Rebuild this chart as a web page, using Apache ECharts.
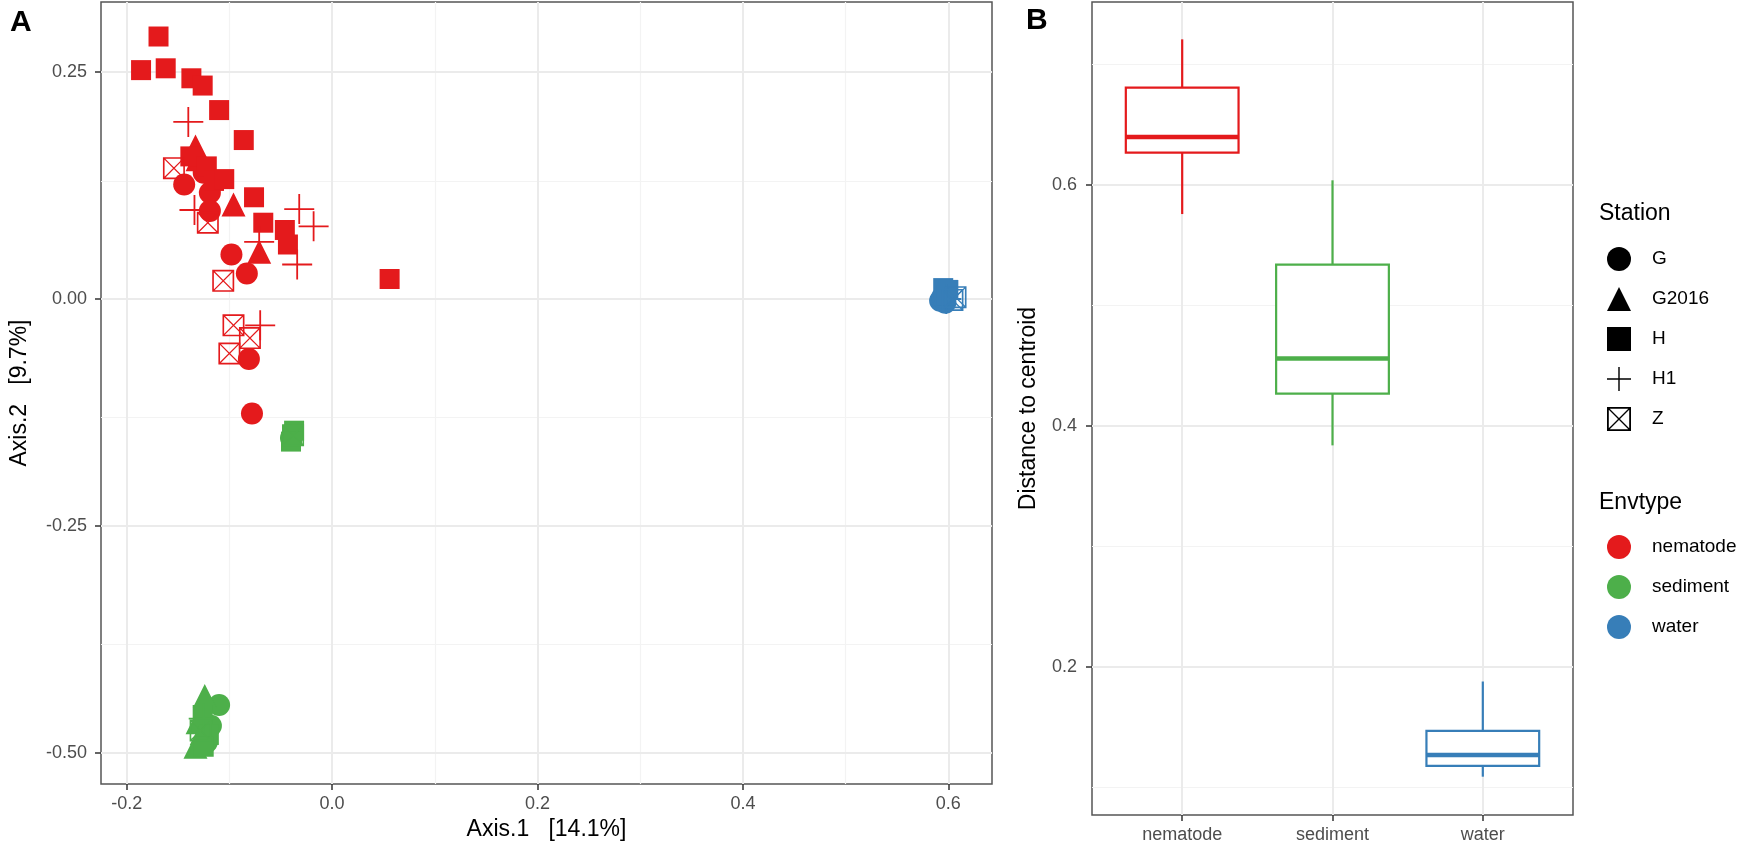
<!DOCTYPE html>
<html>
<head>
<meta charset="utf-8">
<title>PCoA and beta dispersion</title>
<script src="https://cdn.jsdelivr.net/npm/echarts@6/dist/echarts.min.js"></script>
<style>
    html, body { margin: 0; padding: 0; background: #fff; }
    #chart { width: 1750px; height: 847px; }
</style>
</head>
<body>
<div id="chart"></div>
<script>
// 环境类型与颜色
const envTypes = ['nematode', 'sediment', 'water']
const envColors = ['#E41A1C', '#4DAF4A', '#377EB8']

// PCoA 点: [Axis.1, Axis.2, envtype index]
const pointsG = [
    [-0.144, 0.126, 0], [-0.125, 0.139, 0], [-0.119, 0.117, 0], [-0.119, 0.097, 0],
    [-0.098, 0.049, 0], [-0.083, 0.028, 0], [-0.081, -0.066, 0], [-0.078, -0.126, 0],
    [-0.040, -0.153, 1], [-0.110, -0.447, 1], [-0.118, -0.470, 1], [-0.122, -0.488, 1],
    [0.592, -0.002, 2], [0.597, -0.004, 2], [0.594, 0.002, 2]
]
const pointsG2016 = [
    [-0.133, 0.168, 0], [-0.131, 0.154, 0], [-0.096, 0.104, 0], [-0.071, 0.052, 0],
    [-0.124, -0.437, 1], [-0.131, -0.466, 1], [-0.127, -0.478, 1], [-0.133, -0.493, 1],
    [0.596, 0.006, 2]
]
const pointsH = [
    [-0.169, 0.289, 0], [-0.186, 0.252, 0], [-0.162, 0.254, 0], [-0.137, 0.243, 0],
    [-0.126, 0.235, 0], [-0.110, 0.208, 0], [-0.086, 0.175, 0], [-0.138, 0.157, 0],
    [-0.122, 0.146, 0], [-0.115, 0.130, 0], [-0.105, 0.132, 0], [-0.076, 0.112, 0],
    [-0.067, 0.084, 0], [-0.046, 0.076, 0], [-0.043, 0.060, 0], [0.056, 0.022, 0],
    [-0.037, -0.145, 1], [-0.039, -0.150, 1], [-0.040, -0.157, 1],
    [-0.126, -0.458, 1], [-0.120, -0.480, 1], [-0.125, -0.493, 1],
    [0.595, 0.012, 2], [0.600, 0.010, 2], [0.598, 0.004, 2]
]
const pointsH1 = [
    [-0.140, 0.195, 0], [-0.134, 0.098, 0], [-0.071, 0.063, 0], [-0.032, 0.099, 0],
    [-0.018, 0.080, 0], [-0.034, 0.038, 0], [-0.070, -0.029, 0],
    [-0.125, -0.462, 1],
    [0.598, 0.000, 2]
]
const pointsZ = [
    [-0.154, 0.144, 0], [-0.121, 0.084, 0], [-0.106, 0.020, 0], [-0.096, -0.029, 0],
    [-0.080, -0.043, 0], [-0.100, -0.060, 0],
    [-0.038, -0.150, 1], [-0.128, -0.475, 1],
    [0.607, 0.002, 2], [0.604, -0.001, 2]
]

// 到质心距离箱线图: [category, min, Q1, median, Q3, max]
const boxNematode = [1, 0.576, 0.627, 0.640, 0.681, 0.721]
const boxSediment = [2, 0.384, 0.427, 0.456, 0.534, 0.604]
const boxWater = [3, 0.109, 0.118, 0.127, 0.147, 0.188]

// 刻度
const ticksAx = [-0.2, 0, 0.2, 0.4, 0.6]
const minorAx = [-0.1, 0.1, 0.3, 0.5]
const ticksAy = [-0.5, -0.25, 0, 0.25]
const minorAy = [-0.375, -0.125, 0.125]
const ticksBx = [1, 2, 3]
const ticksBy = [0.2, 0.4, 0.6]
const minorBy = [0.1, 0.3, 0.5, 0.7]

// 符号
const plusPath = 'path://M0,9.4H20V10.6H0Z M9.4,0H10.6V20H9.4Z'
const boxXPath = 'path://M0,0H20V20H0Z M1.5,1.5V18.5H18.5V1.5Z M0.8,0L20,19.2L19.2,20L0,0.8Z M19.2,0L20,0.8L0.8,20L0,19.2Z'
const stationSeries = [
    {name: 'G', data: pointsG, symbol: 'circle', size: 22},
    {name: 'G2016', data: pointsG2016, symbol: 'triangle', size: 24},
    {name: 'H', data: pointsH, symbol: 'rect', size: 20},
    {name: 'H1', data: pointsH1, symbol: plusPath, size: 30},
    {name: 'Z', data: pointsZ, symbol: boxXPath, size: 22}
]

const tickColor = '#333333'
const labelColor = '#4D4D4D'

function gridLines(xMajor, xMinor, yMajor, yMinor) {
    let data = []
    let major = {color: '#EBEBEB', width: 2, type: 'solid'}
    let minor = {color: '#F3F3F3', width: 1.2, type: 'solid'}
    xMinor.forEach(v => data.push({xAxis: v, lineStyle: minor}))
    yMinor.forEach(v => data.push({yAxis: v, lineStyle: minor}))
    xMajor.forEach(v => data.push({xAxis: v, lineStyle: major}))
    yMajor.forEach(v => data.push({yAxis: v, lineStyle: major}))
    return {
        silent: true,
        z: 1,
        symbol: ['none', 'none'],
        label: {show: false},
        emphasis: {disabled: true},
        animation: false,
        data: data
    }
}

function valueAxis(gridIndex, min, max, ticks, fmt, name, nameGap, margin) {
    return {
        type: 'value',
        gridIndex: gridIndex,
        min: min,
        max: max,
        axisLine: {show: false, onZero: false},
        axisTick: {show: true, length: 6, customValues: ticks, lineStyle: {color: tickColor, width: 1.5}},
        axisLabel: {customValues: ticks, formatter: fmt, color: labelColor, fontSize: 18, margin: margin},
        splitLine: {show: false},
        name: name,
        nameLocation: 'middle',
        nameGap: nameGap,
        nameTextStyle: {color: '#000', fontSize: 23}
    }
}

// 箱线图绘制
function renderBox(params, api) {
    let x = api.value(0)
    let lo = api.coord([x, api.value(1)])
    let q1 = api.coord([x, api.value(2)])
    let med = api.coord([x, api.value(3)])
    let q3 = api.coord([x, api.value(4)])
    let hi = api.coord([x, api.value(5)])
    let half = api.size([0.75, 0])[0] / 2
    let color = api.visual('color')
    let line = {stroke: color, lineWidth: 2.2, fill: null}
    return {
        type: 'group',
        children: [
            {type: 'line', shape: {x1: hi[0], y1: hi[1], x2: q3[0], y2: q3[1]}, style: line},
            {type: 'line', shape: {x1: q1[0], y1: q1[1], x2: lo[0], y2: lo[1]}, style: line},
            {type: 'rect', shape: {x: q3[0] - half, y: q3[1], width: half * 2, height: q1[1] - q3[1]},
                style: {stroke: color, lineWidth: 2.2, fill: '#fff'}},
            {type: 'line', shape: {x1: med[0] - half, y1: med[1], x2: med[0] + half, y2: med[1]},
                style: {stroke: color, lineWidth: 4.5}}
        ]
    }
}

let series = []
// 网格线
series.push({type: 'scatter', xAxisIndex: 0, yAxisIndex: 0, data: [], z: 1,
    markLine: gridLines(ticksAx, minorAx, ticksAy, minorAy)})
series.push({type: 'scatter', xAxisIndex: 1, yAxisIndex: 1, data: [], z: 1,
    markLine: gridLines(ticksBx, [], ticksBy, minorBy)})
// PCoA 散点
stationSeries.forEach(s => {
    series.push({
        type: 'scatter',
        name: s.name,
        xAxisIndex: 0,
        yAxisIndex: 0,
        data: s.data,
        symbol: s.symbol,
        symbolSize: s.size,
        z: 10,
        silent: true,
        itemStyle: {color: p => envColors[p.data[2]], opacity: 1}
    })
})
// 箱线图
;[boxNematode, boxSediment, boxWater].forEach((b, i) => {
    series.push({
        type: 'custom',
        name: envTypes[i],
        xAxisIndex: 1,
        yAxisIndex: 1,
        data: [b],
        encode: {x: 0, y: [1, 2, 3, 4, 5]},
        renderItem: renderBox,
        itemStyle: {color: envColors[i]},
        z: 10,
        silent: true
    })
})

let myChart = echarts.init(document.getElementById('chart'), null, {renderer: 'canvas'})
myChart.setOption({
    animation: false,
    backgroundColor: '#fff',
    textStyle: {fontFamily: 'Liberation Sans, Arial, sans-serif'},
    title: [
        {text: 'A', left: 10, top: 8, padding: 0, textStyle: {fontSize: 30, fontWeight: 'bold', color: '#000'}},
        {text: 'B', left: 1026, top: 6, padding: 0, textStyle: {fontSize: 30, fontWeight: 'bold', color: '#000'}},
        {text: 'Station', left: 1599, top: 202, padding: 0, textStyle: {fontSize: 23, fontWeight: 'normal', color: '#000'}},
        {text: 'Envtype', left: 1599, top: 491, padding: 0, textStyle: {fontSize: 23, fontWeight: 'normal', color: '#000'}}
    ],
    legend: [
        {
            orient: 'vertical', left: 1607, top: 247, padding: 0,
            itemWidth: 24, itemHeight: 24, itemGap: 16,
            selectedMode: false,
            itemStyle: {color: '#000', borderWidth: 0},
            textStyle: {fontSize: 19, color: '#000', padding: [0, 0, 0, 16]},
            data: [
                {name: 'G', icon: 'circle'},
                {name: 'G2016', icon: 'triangle'},
                {name: 'H', icon: 'rect'},
                {name: 'H1', icon: plusPath},
                {name: 'Z', icon: boxXPath}
            ]
        },
        {
            orient: 'vertical', left: 1607, top: 535, padding: 0,
            itemWidth: 24, itemHeight: 24, itemGap: 16,
            selectedMode: false,
            textStyle: {fontSize: 19, color: '#000', padding: [0, 0, 0, 16]},
            data: envTypes.map(n => ({name: n, icon: 'circle'}))
        }
    ],
    grid: [
        {left: 94, top: 2, width: 898, height: 782, show: true, borderColor: '#555', borderWidth: 1.5, backgroundColor: '#fff'},
        {left: 1092, top: 2, width: 481, height: 813, show: true, borderColor: '#555', borderWidth: 1.5, backgroundColor: '#fff'}
    ],
    xAxis: [
        valueAxis(0, -0.225, 0.6425, ticksAx, v => v.toFixed(1), 'Axis.1   [14.1%]', 34, 11),
        valueAxis(1, 0.4, 3.6, ticksBx, v => envTypes[Math.round(v) - 1], '', 0, 11)
    ],
    yAxis: [
        valueAxis(0, -0.534, 0.327, ticksAy, v => v.toFixed(2), 'Axis.2   [9.7%]', 70, 14),
        valueAxis(1, 0.0772, 0.752, ticksBy, v => v.toFixed(1), 'Distance to centroid', 52, 15)
    ],
    series: series
})
</script>
</body>
</html>
